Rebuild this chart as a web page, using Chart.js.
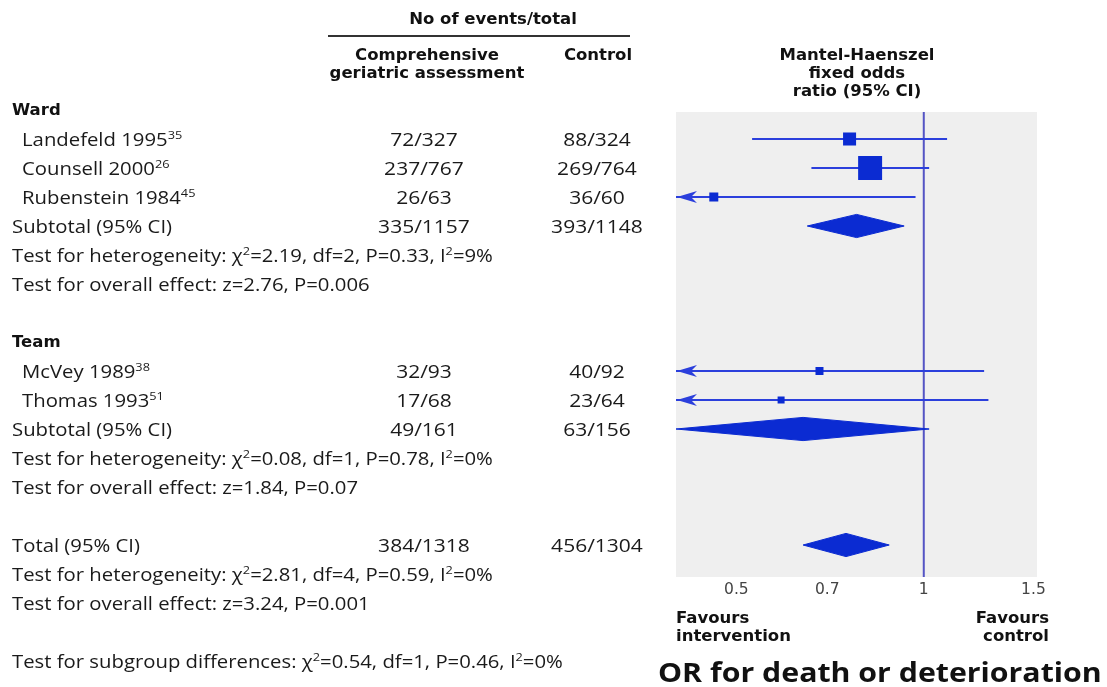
<!DOCTYPE html>
<html><head><meta charset="utf-8">
<script src="https://cdn.jsdelivr.net/npm/chart.js@4.4.1/dist/chart.umd.min.js"></script>
<style>
html,body{margin:0;padding:0;background:#fff;}
#wrap{position:relative;width:1107px;height:687px;overflow:hidden;font-family:'Open Sans','DejaVu Sans',sans-serif;color:#1a1a1a;}
#c{position:absolute;left:0;top:0;}
.t{position:absolute;white-space:nowrap;font-size:17.5px;line-height:20px;transform:translateY(-50%) scaleX(1.16);transform-origin:0 50%;}
.cen{transform:translate(-50%,-50%) scaleX(1.2);transform-origin:50% 50%;text-align:center;}
.rgt{transform:translate(-100%,-50%);transform-origin:100% 50%;text-align:right;}
.b{font-family:'DejaVu Sans','Open Sans',sans-serif;font-weight:bold;font-size:16.5px;line-height:18px;color:#111;}
.b:not(.cen):not(.rgt){transform:translateY(-50%);}
.b.cen{transform:translate(-50%,-50%);}
sup{font-size:11px;vertical-align:7px;line-height:0;}
#rule{position:absolute;left:328px;top:35px;width:302px;height:2px;background:#333;}
#title{position:absolute;left:658px;top:672px;transform:translateY(-50%) scaleX(1.165);transform-origin:0 50%;font-family:'Open Sans',sans-serif;font-weight:700;font-size:26px;white-space:nowrap;color:#111;}
</style></head>
<body><div id="wrap"><canvas id="c" width="1107" height="687"></canvas><div id="rule"></div></div>
<script>
// ---------- data ----------
const groupNames = ['Ward', 'Team'];
const studyNames = ['Landefeld 1995', 'Counsell 2000', 'Rubenstein 1984', 'McVey 1989', 'Thomas 1993'];
const studyRefs = ['35', '26', '45', '38', '51'];
const studyGroup = [0, 0, 0, 1, 1];
const cgaEvents = [72, 237, 26, 32, 17];
const cgaTotals = [327, 767, 63, 93, 68];
const ctlEvents = [88, 269, 36, 40, 23];
const ctlTotals = [324, 764, 60, 92, 64];
const studyOR = [0.76, 0.82, 0.46, 0.68, 0.59];
const studyLow = [0.53, 0.66, 0.22, 0.37, 0.27];
const studyHigh = [1.09, 1.02, 0.97, 1.25, 1.27];
const studyWeight = [18, 61, 8.6, 6.8, 5.2];

const pooledNames = ['Subtotal (95% CI)', 'Subtotal (95% CI)', 'Total (95% CI)'];
const pooledCgaEvents = [335, 49, 384];
const pooledCgaTotals = [1157, 161, 1318];
const pooledCtlEvents = [393, 63, 456];
const pooledCtlTotals = [1148, 156, 1304];
const pooledOR = [0.78, 0.64, 0.75];
const pooledLow = [0.65, 0.40, 0.64];
const pooledHigh = [0.93, 1.02, 0.88];
const hetChi2 = ['2.19', '0.08', '2.81'];
const hetDf = [2, 1, 4];
const hetP = ['0.33', '0.78', '0.59'];
const hetI2 = [9, 0, 0];
const effectZ = ['2.76', '1.84', '3.24'];
const effectP = ['0.006', '0.07', '0.001'];
const subgroupChi2 = '0.54', subgroupDf = 1, subgroupP = '0.46', subgroupI2 = 0;

const xTicks = [0.5, 0.7, 1, 1.5];
const xMin = 0.4, xMax = 1.52;

// ---------- layout of rows ----------
const ROW0 = 110, ROWH = 29;
const rows = [];
let r = 0;
const studyRow = [], pooledRow = [];
groupNames.forEach((g, gi) => {
  rows.push({r: r++, kind: 'group', idx: gi});
  studyNames.forEach((s, si) => { if (studyGroup[si] === gi) { studyRow[si] = r; rows.push({r: r++, kind: 'study', idx: si}); } });
  pooledRow[gi] = r; rows.push({r: r++, kind: 'pooled', idx: gi});
  rows.push({r: r++, kind: 'het', idx: gi});
  rows.push({r: r++, kind: 'eff', idx: gi});
  r++;
});
pooledRow[2] = r; rows.push({r: r++, kind: 'pooled', idx: 2});
rows.push({r: r++, kind: 'het', idx: 2});
rows.push({r: r++, kind: 'eff', idx: 2});
r++;
rows.push({r: r++, kind: 'subgroup', idx: 0});

// ---------- chart ----------
const BLUE = '#0b2bd2', LINE = '#2b3fdc', REF = '#5454c4';
const datasets = [];
datasets.push({
  label: 'studies', data: studyOR.map((v, i) => ({x: v, y: studyRow[i]})),
  pointStyle: 'rect', pointRadius: studyWeight.map(w => 3.07 * Math.sqrt(w) / 1.414),
  backgroundColor: BLUE, borderWidth: 0
});
pooledOR.forEach((v, i) => {
  const y = pooledRow[i], h = 0.40;
  datasets.push({
    label: 'pooled' + i, showLine: true, fill: 'shape', pointRadius: 0,
    data: [{x: pooledLow[i], y}, {x: v, y: y - h}, {x: pooledHigh[i], y}, {x: v, y: y + h}, {x: pooledLow[i], y}],
    backgroundColor: BLUE, borderColor: BLUE, borderWidth: 1, tension: 0
  });
});
studyOR.forEach((v, i) => {
  datasets.push({
    label: 'ci' + i, showLine: true, pointRadius: 0, borderColor: LINE, borderWidth: 2,
    data: [{x: studyLow[i], y: studyRow[i]}, {x: studyHigh[i], y: studyRow[i]}]
  });
});
datasets.push({
  label: 'ref', showLine: true, pointRadius: 0, borderColor: REF, borderWidth: 2,
  data: [{x: 1, y: -5}, {x: 1, y: 30}]
});

const bgPlugin = {
  id: 'bg',
  beforeDatasetsDraw(chart) {
    const a = chart.chartArea, c = chart.ctx;
    c.save(); c.fillStyle = '#efefef'; c.fillRect(a.left, a.top, a.right - a.left, a.bottom - a.top); c.restore();
  }
};
const arrowPlugin = {
  id: 'arrows',
  afterDatasetsDraw(chart) {
    const c = chart.ctx, xs = chart.scales.x, ys = chart.scales.y;
    studyLow.forEach((lo, i) => {
      if (lo >= xMin) return;
      const x = xs.getPixelForValue(xMin) + 1, y = ys.getPixelForValue(studyRow[i]);
      c.save(); c.fillStyle = LINE; c.beginPath();
      c.moveTo(x, y); c.lineTo(x + 20, y - 6); c.lineTo(x + 14, y); c.lineTo(x + 20, y + 6); c.closePath(); c.fill(); c.restore();
    });
  }
};

const chart = new Chart(document.getElementById('c'), {
  type: 'scatter',
  data: {datasets},
  options: {
    responsive: false, animation: false, devicePixelRatio: 1,
    layout: {padding: {left: 676, right: 70, top: 112, bottom: 0}},
    plugins: {legend: {display: false}, tooltip: {enabled: false}},
    scales: {
      x: {
        type: 'logarithmic', min: xMin, max: xMax,
        grid: {display: false, drawTicks: false}, border: {display: false},
        afterBuildTicks: s => { s.ticks = xTicks.map(v => ({value: v})); },
        afterFit: s => { s.height = 110; },
        ticks: {padding: 4, color: '#444', autoSkip: false, maxRotation: 0,
          font: {family: 'DejaVu Sans', size: 15.5}, callback: v => String(v)}
      },
      y: {type: 'linear', reverse: true, display: false, min: (112 - ROW0) / ROWH, max: (577 - ROW0) / ROWH}
    }
  },
  plugins: [bgPlugin, arrowPlugin]
});

// ---------- text ----------
const wrap = document.getElementById('wrap');
function addText(html, x, y, cls) {
  const d = document.createElement('div');
  d.className = 't ' + (cls || '');
  d.style.left = x + 'px'; d.style.top = y + 'px';
  d.innerHTML = html; wrap.appendChild(d); return d;
}
const yPix = rr => chart.scales.y.getPixelForValue(rr);
const COL1 = 424, COL2 = 597;
rows.forEach(row => {
  const y = yPix(row.r), i = row.idx;
  if (row.kind === 'group') addText(groupNames[i], 12, y, 'b');
  if (row.kind === 'study') {
    addText(studyNames[i] + '<sup>' + studyRefs[i] + '</sup>', 22, y);
    addText(cgaEvents[i] + '/' + cgaTotals[i], COL1, y, 'cen');
    addText(ctlEvents[i] + '/' + ctlTotals[i], COL2, y, 'cen');
  }
  if (row.kind === 'pooled') {
    addText(pooledNames[i], 12, y);
    addText(pooledCgaEvents[i] + '/' + pooledCgaTotals[i], COL1, y, 'cen');
    addText(pooledCtlEvents[i] + '/' + pooledCtlTotals[i], COL2, y, 'cen');
  }
  if (row.kind === 'het') addText('Test for heterogeneity: χ<sup>2</sup>=' + hetChi2[i] + ', df=' + hetDf[i] + ', P=' + hetP[i] + ', I<sup>2</sup>=' + hetI2[i] + '%', 12, y);
  if (row.kind === 'eff') addText('Test for overall effect: z=' + effectZ[i] + ', P=' + effectP[i], 12, y);
  if (row.kind === 'subgroup') addText('Test for subgroup differences: χ<sup>2</sup>=' + subgroupChi2 + ', df=' + subgroupDf + ', P=' + subgroupP + ', I<sup>2</sup>=' + subgroupI2 + '%', 12, y);
});
addText('No of events/total', 493, 19, 'b cen');
addText('Comprehensive<br>geriatric assessment', 427, 64, 'b cen');
addText('Control', 598, 55, 'b cen');
addText('Mantel-Haenszel<br>fixed odds<br>ratio (95% CI)', 857, 73, 'b cen');
addText('Favours<br>intervention', 676, 627, 'b');
addText('Favours<br>control', 1049, 627, 'b rgt');
const tt = document.createElement('div'); tt.id = 'title'; tt.textContent = 'OR for death or deterioration'; wrap.appendChild(tt);
</script>
</body></html>
